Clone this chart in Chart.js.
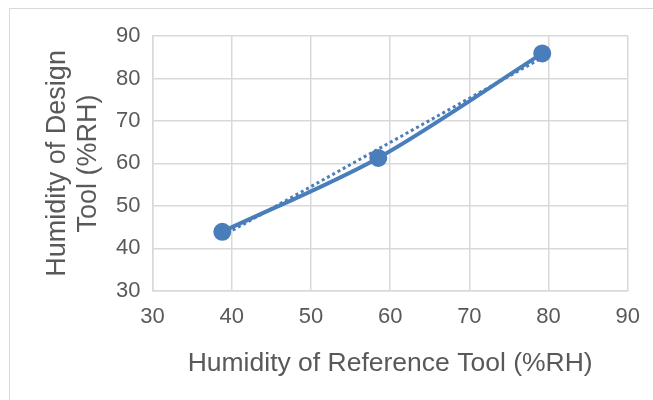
<!DOCTYPE html>
<html>
<head>
<meta charset="utf-8">
<script src="https://cdn.jsdelivr.net/npm/chart.js@4"></script>
<style>
  html, body { margin: 0; padding: 0; background: #fff; }
  #wrap { position: relative; width: 653px; height: 400px; overflow: hidden; }
  #frame { position: absolute; left: 9px; top: 8px; width: 700px; height: 450px; border: 1px solid #d9d9d9; box-sizing: border-box; }
  canvas { position: absolute; left: 0; top: 0; }
</style>
</head>
<body>
<div id="wrap">
  <div id="frame"></div>
  <canvas id="chart" width="653" height="400"></canvas>
</div>
<script>
// measured points (x: reference tool, y: design tool)
const refHumidity = [38.8, 58.5, 79.2];
const designHumidity = [43.9, 61.3, 85.9];
// dotted trend line end points
const trendX = [38.8, 79.2];
const trendY = [42.9, 84.9];

const xTicks = [30, 40, 50, 60, 70, 80, 90];
const yTicks = [30, 40, 50, 60, 70, 80, 90];

const blue = '#4a7ebb';
const gray = '#595959';
const fam = 'Liberation Sans, Arial';

const ctx = document.getElementById('chart').getContext('2d');
new Chart(ctx, {
  type: 'scatter',
  data: {
    datasets: [
      {
        label: 'Design vs Reference',
        data: refHumidity.map((x, i) => ({ x, y: designHumidity[i] })),
        showLine: true,
        borderColor: blue,
        backgroundColor: blue,
        borderWidth: 4,
        tension: 0.3,
        pointRadius: 7,
        pointHoverRadius: 7,
        order: 1
      },
      {
        label: 'Trend',
        data: trendX.map((x, i) => ({ x, y: trendY[i] })),
        showLine: true,
        borderColor: blue,
        borderWidth: 3,
        borderDash: [3, 3],
        pointRadius: 0,
        order: 2
      }
    ]
  },
  options: {
    responsive: false,
    animation: false,
    layout: { padding: { left: 38, right: 24, top: 36, bottom: 16 } },
    plugins: {
      legend: { display: false },
      tooltip: { enabled: false }
    },
    scales: {
      x: {
        type: 'linear',
        min: xTicks[0],
        max: xTicks[xTicks.length - 1],
        afterBuildTicks: axis => { axis.ticks = xTicks.map(v => ({ value: v })); },
        grid: { color: '#d9d9d9', lineWidth: 1.5, drawTicks: false },
        border: { color: '#d9d9d9', width: 1.5 },
        ticks: { color: gray, font: { family: fam, size: 22 }, padding: 13 },
        title: {
          display: true,
          text: 'Humidity of Reference Tool (%RH)',
          color: gray,
          font: { family: fam, size: 26.5 },
          padding: { top: 5 }
        }
      },
      y: {
        type: 'linear',
        min: yTicks[0],
        max: yTicks[yTicks.length - 1],
        afterBuildTicks: axis => { axis.ticks = yTicks.map(v => ({ value: v })); },
        grid: { color: '#d9d9d9', lineWidth: 1.5, drawTicks: false },
        border: { color: '#d9d9d9', width: 1.5 },
        ticks: { color: gray, font: { family: fam, size: 22 }, padding: 12 },
        title: {
          display: true,
          text: ['Humidity of Design', 'Tool (%RH)'],
          color: gray,
          font: { family: fam, size: 27, lineHeight: 1.15 },
          padding: { bottom: 0 }
        }
      }
    }
  }
});
</script>
</body>
</html>
